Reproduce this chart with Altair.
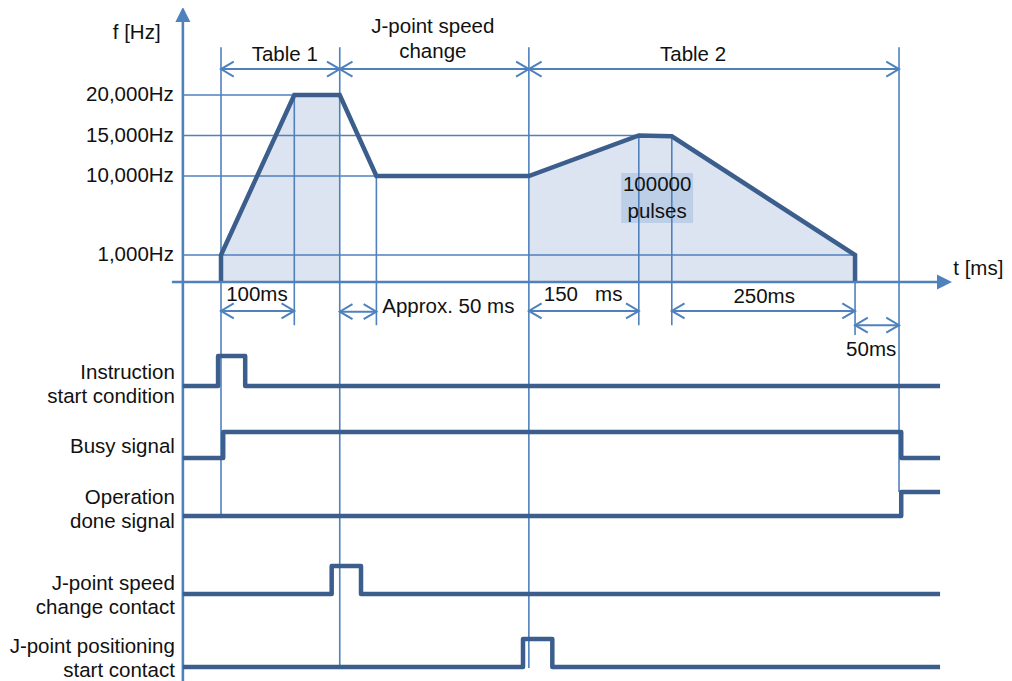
import altair as alt
import pandas as pd

# ---------------- values ----------------
# speed profile: time [ms] / output frequency [Hz]
profile_t = [0, 0, 100, 162, 212, 420, 570, 615, 865, 865]
profile_hz = [0, 1000, 20000, 20000, 10000, 10000, 15000, 14900, 1000, 0]

# shaded pulse areas (Table 1, Table 2)
area_group = ["Table 1"] * 3 + ["Table 2"] * 4
area_t = [0, 100, 162, 420, 570, 615, 865]
area_hz = [1000, 20000, 20000, 10000, 15000, 14900, 1000]

# frequency levels on the f axis and the time where each level line stops
level_hz = [20000, 15000, 10000, 1000]
level_label = ["20,000Hz", "15,000Hz", "10,000Hz", "1,000Hz"]
level_end_t = [162, 570, 212, 865]

# time where the f axis sits, and extent of the t axis
axis_t = -52
t_axis_start = -67
t_axis_end = 977
t_arrow = 987
f_axis_top = 29000
f_axis_bottom = -15000
f_arrow = 29940

# vertical time guides: time, top and bottom (in frequency-axis units)
guide_t = [0, 100, 162, 212, 420, 570, 615, 865, 925]
guide_top_hz = [25900, 20000, 25900, 10000, 25900, 15000, 14900, 0, 25900]
guide_bottom_hz = [-8670, -1600, -14300, -1600, -14300, -1600, -1600, -1960, -7780]

# dimension arrows
dim_start_t = [0, 162, 420, 0, 162, 420, 615, 865]
dim_end_t = [162, 420, 925, 100, 212, 570, 865, 925]
dim_hz = [23200, 23200, 23200, -1070, -1100, -1070, -1070, -1600]

# dimension labels (centred; anchor = first line)
dim_label = ["Table 1", "J-point speed\nchange", "Table 2", "100ms",
             "150\u00a0\u00a0\u00a0ms", "250ms", "50ms"]
dim_label_t = [87, 289, 644, 49, 494, 741, 887]
dim_label_hz = [24950, 28400, 25000, -480, -480, -560, -2520]
# dimension label (left aligned)
approx_label = ["Approx. 50 ms"]
approx_t = [220]
approx_hz = [-930]

# axis titles
f_title = ["f [Hz]"]
f_title_t = [-115]
f_title_hz = [27650]
t_title = ["t [ms]"]
t_title_t = [999]
t_title_hz = [480]

# "100000 pulses" note
pulse_text = ["100000\npulses"]
pulse_t = [595]
pulse_hz = [8975]
pulse_box_t = [546, 644]
pulse_box_hz = [10370, 4646]

# control signals: transition times [ms] and levels (0 low / 1 high)
signal_names = ["Instruction\nstart condition", "Busy signal", "Operation\ndone signal",
                "J-point speed\nchange contact", "J-point positioning\nstart contact"]
signal_t = [[-52, -4, 33, 981],
            [-52, 3, 928, 981],
            [-52, 928, 981],
            [-52, 151, 191, 981],
            [-52, 412, 452, 981]]
signal_level = [[0, 1, 0, 0],
                [0, 1, 0, 0],
                [0, 1, 1],
                [0, 1, 0, 0],
                [0, 1, 0, 0]]
signal_label_anchor = [0.57, 2.58, 4.25, 6.64, 8.29]

# ---------------- styles ----------------
DARK = "#3b5e8c"
THIN = "#4f81bd"
FILL = "#dbe4f0"
BOX = "#bccfe6"
FONT = "Liberation Sans"
FS = 20.5

W, H = 821, 673
PAD_L = 175
PX_PER_MS = 0.733
t_min = axis_t + 0.16
t_max = t_min + W / PX_PER_MS

x_scale = alt.Scale(domain=[t_min, t_max], nice=False, zero=False)
# frequency axis of the diagram is drawn piecewise (not to scale at the bottom)
hz_scale = alt.Scale(domain=[0, 1000, 10000, 20000], range=[274, 247, 168, 87],
                     nice=False, zero=False)
# signal rows: code = 2*row + (1 - level)
sig_scale = alt.Scale(domain=list(range(10)),
                      range=[348, 378, 424, 450, 484, 508, 558, 586, 631, 659],
                      nice=False, zero=False)


def X(f):
    return alt.X(f, type="quantitative", scale=x_scale, axis=None)


def X2(f):
    return alt.X2(f)


def YH(f):
    return alt.Y(f, type="quantitative", scale=hz_scale, axis=None, stack=None)


def YS(f):
    return alt.Y(f, type="quantitative", scale=sig_scale, axis=None)


# ---------------- tables ----------------
profile_df = pd.DataFrame({"t": profile_t, "hz": profile_hz, "o": range(len(profile_t))})
area_df = pd.DataFrame({"g": area_group, "t": area_t, "hz": area_hz})
level_df = pd.DataFrame({"hz": level_hz, "label": level_label, "t0": axis_t, "t1": level_end_t})
guide_df = pd.DataFrame({"t": guide_t, "top": guide_top_hz, "bottom": guide_bottom_hz})
dim_df = pd.DataFrame({"t1": dim_start_t, "t2": dim_end_t, "hz": dim_hz})
dim_label_df = pd.DataFrame({"label": dim_label, "t": dim_label_t, "hz": dim_label_hz})
approx_df = pd.DataFrame({"label": approx_label, "t": approx_t, "hz": approx_hz})
ftitle_df = pd.DataFrame({"label": f_title, "t": f_title_t, "hz": f_title_hz})
ttitle_df = pd.DataFrame({"label": t_title, "t": t_title_t, "hz": t_title_hz})
pulse_df = pd.DataFrame({"label": pulse_text, "t": pulse_t, "hz": pulse_hz,
                         "t1": [pulse_box_t[0]], "t2": [pulse_box_t[1]],
                         "h1": [pulse_box_hz[0]], "h2": [pulse_box_hz[1]]})
faxis_df = pd.DataFrame({"t": [axis_t], "top": [f_axis_top], "bottom": [f_axis_bottom],
                         "arrow": [f_arrow]})
taxis_df = pd.DataFrame({"t1": [t_axis_start], "t2": [t_axis_end], "hz": [0],
                         "arrow": [t_arrow]})

rows = []
for i, (ts, lv) in enumerate(zip(signal_t, signal_level)):
    for k, (t, l) in enumerate(zip(ts, lv)):
        rows.append({"sig": i, "k": k, "t": t, "code": 2 * i + 1 - l})
signal_df = pd.DataFrame(rows)
sig_label_df = pd.DataFrame({"label": signal_names, "t": axis_t, "code": signal_label_anchor})

# ---------------- marks ----------------
LEFT_HEAD = "M 1.7 -1 L 0 0 L 1.7 1"
RIGHT_HEAD = "M -1.7 -1 L 0 0 L -1.7 1"
UP_ARROW = "M 0 -1 L 1 1 L -1 1 Z"
RIGHT_ARROW = "M 1 0 L -1 -1 L -1 1 Z"

area = alt.Chart(area_df).mark_area(color=FILL, opacity=1).encode(
    x=X("t"), y=YH("hz"), detail="g:N")

box = alt.Chart(pulse_df).mark_rect(color=BOX, opacity=1).encode(
    x=X("t1"), x2=X2("t2"), y=YH("h1"), y2=alt.Y2("h2"))

levels = alt.Chart(level_df).mark_rule(color=THIN, strokeWidth=1.6).encode(
    x=X("t0"), x2=X2("t1"), y=YH("hz"))

guides = alt.Chart(guide_df).mark_rule(color=THIN, strokeWidth=1.6).encode(
    x=X("t"), y=YH("top"), y2=alt.Y2("bottom"))

profile = alt.Chart(profile_df).mark_line(color=DARK, strokeWidth=4.5, strokeJoin="miter").encode(
    x=X("t"), y=YH("hz"), order="o:Q")

dims = alt.Chart(dim_df).mark_rule(color=THIN, strokeWidth=2).encode(
    x=X("t1"), x2=X2("t2"), y=YH("hz"))
heads_l = alt.Chart(dim_df).mark_point(shape=LEFT_HEAD, filled=False, size=225, strokeWidth=2,
                                       color=THIN, opacity=1).encode(x=X("t1"), y=YH("hz"))
heads_r = alt.Chart(dim_df).mark_point(shape=RIGHT_HEAD, filled=False, size=225, strokeWidth=2,
                                       color=THIN, opacity=1).encode(x=X("t2"), y=YH("hz"))

faxis = alt.Chart(faxis_df).mark_rule(color=THIN, strokeWidth=2.6).encode(
    x=X("t"), y=YH("top"), y2=alt.Y2("bottom"))
faxis_arrow = alt.Chart(faxis_df).mark_point(shape=UP_ARROW, filled=True, size=225,
                                             color=THIN, opacity=1).encode(x=X("t"), y=YH("arrow"))
taxis = alt.Chart(taxis_df).mark_rule(color=THIN, strokeWidth=2.6).encode(
    x=X("t1"), x2=X2("t2"), y=YH("hz"))
taxis_arrow = alt.Chart(taxis_df).mark_point(shape=RIGHT_ARROW, filled=True, size=225,
                                             color=THIN, opacity=1).encode(x=X("arrow"), y=YH("hz"))

text_kw = dict(font=FONT, fontSize=FS, color="#111111", baseline="middle", lineBreak="\n")
level_text = alt.Chart(level_df).mark_text(align="right", dx=-9, **text_kw).encode(
    x=X("t0"), y=YH("hz"), text="label:N")
dim_text = alt.Chart(dim_label_df).mark_text(align="center", lineHeight=25, **text_kw).encode(
    x=X("t"), y=YH("hz"), text="label:N")
approx_text = alt.Chart(approx_df).mark_text(align="left", **text_kw).encode(
    x=X("t"), y=YH("hz"), text="label:N")
ftitle_text = alt.Chart(ftitle_df).mark_text(align="center", **text_kw).encode(
    x=X("t"), y=YH("hz"), text="label:N")
ttitle_text = alt.Chart(ttitle_df).mark_text(align="left", **text_kw).encode(
    x=X("t"), y=YH("hz"), text="label:N")
pulse_label = alt.Chart(pulse_df).mark_text(align="center", lineHeight=27, **text_kw).encode(
    x=X("t"), y=YH("hz"), text="label:N")

freq = alt.layer(area, box, levels, guides, profile, dims, heads_l, heads_r,
                 faxis, faxis_arrow, taxis, taxis_arrow,
                 level_text, dim_text, approx_text, ftitle_text, ttitle_text, pulse_label)

sig_lines = alt.Chart(signal_df).mark_line(color=DARK, strokeWidth=4.5, interpolate="step-after",
                                           strokeJoin="round").encode(
    x=X("t"), y=YS("code"), detail="sig:N", order="k:Q")
sig_text = alt.Chart(sig_label_df).mark_text(align="right", dx=-8, lineHeight=24, **text_kw).encode(
    x=X("t"), y=YS("code"), text="label:N")
sig = alt.layer(sig_lines, sig_text)

chart = alt.layer(freq, sig).resolve_scale(y="independent").properties(
    width=W, height=H,
    autosize=alt.AutoSizeParams(type="none"),
    padding={"left": PAD_L, "top": 0, "right": 0, "bottom": 0},
    background="white",
).configure_view(stroke=None)

chart.save("out.html", embed_options={"renderer": "svg", "actions": False})
